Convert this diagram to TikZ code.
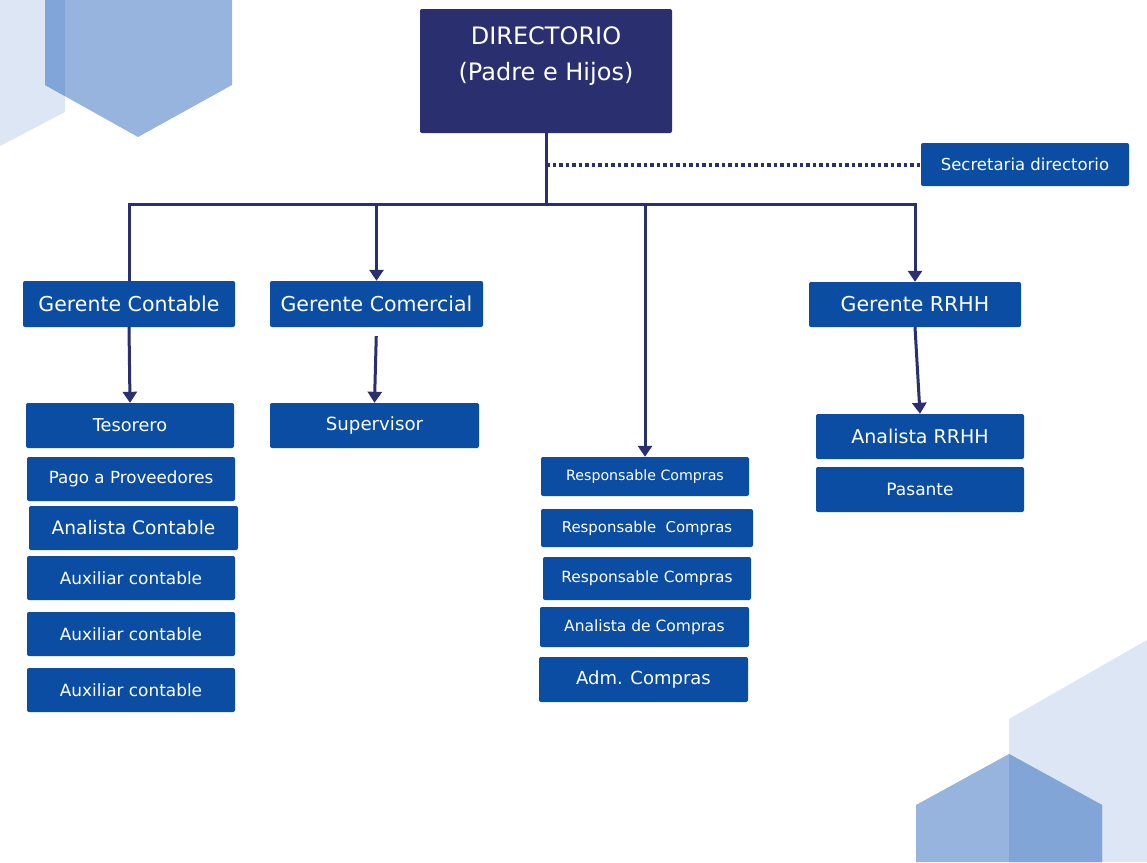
\documentclass[tikz,border=0pt]{standalone}
\usepackage{fontspec}
\setmainfont{DejaVu Sans}
\usetikzlibrary{arrows.meta}
\definecolor{navy}{HTML}{2A2F6F}
\definecolor{azul}{HTML}{0A4DA3}
\definecolor{claro}{HTML}{DCE6F4}
\definecolor{medio}{HTML}{97B4DE}
\definecolor{cruce}{HTML}{81A5D6}
\newcommand{\tam}[1]{\fontsize{#1}{#1}\selectfont}
\tikzset{
  caja/.style n args={2}{fill=azul, text=white, rounded corners=2pt, inner sep=0pt,
    minimum width=#1, minimum height=#2},
  linea/.style={draw=navy, line width=3pt},
  flecha/.style={linea, -{Triangle[width=14pt,length=11pt]}},
  punteado/.style={draw=navy, line width=4pt, dash pattern=on 3.5pt off 3pt}
}
\begin{document}
\begin{tikzpicture}[x=1pt,y=-1pt]
\useasboundingbox (0,0) rectangle (1147,862);
\fill[white] (0,0) rectangle (1147,862);
%decor top left
\fill[claro] (0,0)--(65,0)--(65,112)--(0,146)--cycle;
\fill[medio] (45,0)--(232,0)--(232,85)--(138,137)--(45,85)--cycle;
\fill[cruce] (45,0)--(65,0)--(65,96)--(45,85)--cycle;
%decor bottom right
\fill[claro] (1009,719)--(1147,640)--(1147,862)--(1009,862)--cycle;
\fill[medio] (916,805)--(1009,754)--(1102,805)--(1102,862)--(916,862)--cycle;
\fill[cruce] (1009,754)--(1102,805)--(1102,862)--(1009,862)--cycle;
%directorio
\node[caja={252pt}{124pt}, fill=navy] (dir) at (546,71) {};
\node[text=white, align=center, font=\fontsize{24}{36}\selectfont] (dirtxt) at (546,56) {DIRECTORIO\\(Padre e Hijos)};
\node[caja={208pt}{43pt}, font=\tam{16.5}] (sec) at (1025,164.5) {Secretaria directorio};
%gerentes
\node[caja={212pt}{46pt}, font=\tam{20.5}] (gcont) at (129,304) {Gerente Contable};
\node[caja={213pt}{46pt}, font=\tam{20.5}] (gcom) at (376.5,304) {Gerente Comercial};
\node[caja={212pt}{45pt}, font=\tam{20.5}] (grrhh) at (915,304.5) {Gerente RRHH};
%contable
\node[caja={208pt}{45pt}, font=\tam{17.7}] (teso) at (130,425.5) {Tesorero};
\node[caja={208pt}{44pt}, font=\tam{16.7}] (pago) at (131,479) {Pago a Proveedores};
\node[caja={209pt}{44pt}, font=\tam{18.6}] (acont) at (133.5,528) {Analista Contable};
\node[caja={208pt}{44pt}, font=\tam{16.9}] (aux1) at (131,578) {Auxiliar contable};
\node[caja={208pt}{44pt}, font=\tam{16.9}] (aux2) at (131,634) {Auxiliar contable};
\node[caja={208pt}{44pt}, font=\tam{16.9}] (aux3) at (131,690) {Auxiliar contable};
%comercial
\node[caja={209pt}{45pt}, font=\tam{18.2}] (sup) at (374.5,425.5) {Supervisor};
%compras
\node[caja={208pt}{39pt}, font=\tam{14.2}] (rc1) at (645,476.5) {Responsable Compras};
\node[caja={212pt}{38pt}, font=\tam{14.9}] (rc2) at (647,528) {Responsable\ \ Compras};
\node[caja={208pt}{43pt}, font=\tam{15.4}] (rc3) at (647,578.5) {Responsable Compras};
\node[caja={209pt}{40pt}, font=\tam{15.5}] (anc) at (644.5,627) {Analista de Compras};
\node[caja={209pt}{45pt}, font=\tam{18}] (adm) at (643.5,679.5) {Adm. Compras};
%rrhh
\node[caja={208pt}{45pt}, font=\tam{19}] (arrhh) at (920,436.5) {Analista RRHH};
\node[caja={208pt}{45pt}, font=\tam{17}] (pas) at (920,489.5) {Pasante};
%lines
\coordinate (bus) at (546,204);
\draw[linea] (dir.south)--(bus);
\draw[punteado] (dir.south |- sec.west)--(sec.west);
\draw[flecha] (gcont.north) |- (bus) -| (grrhh.north);
\draw[flecha] (gcom.north |- bus)--(gcom.north);
\draw[flecha] (rc1.north |- bus)--(rc1.north);
\draw[flecha] (gcont.south)--(teso.north);
\draw[flecha, shorten <=9pt] (gcom.south)--(sup.north);
\draw[flecha] (grrhh.south)--(arrhh.north);
\end{tikzpicture}
\end{document}
